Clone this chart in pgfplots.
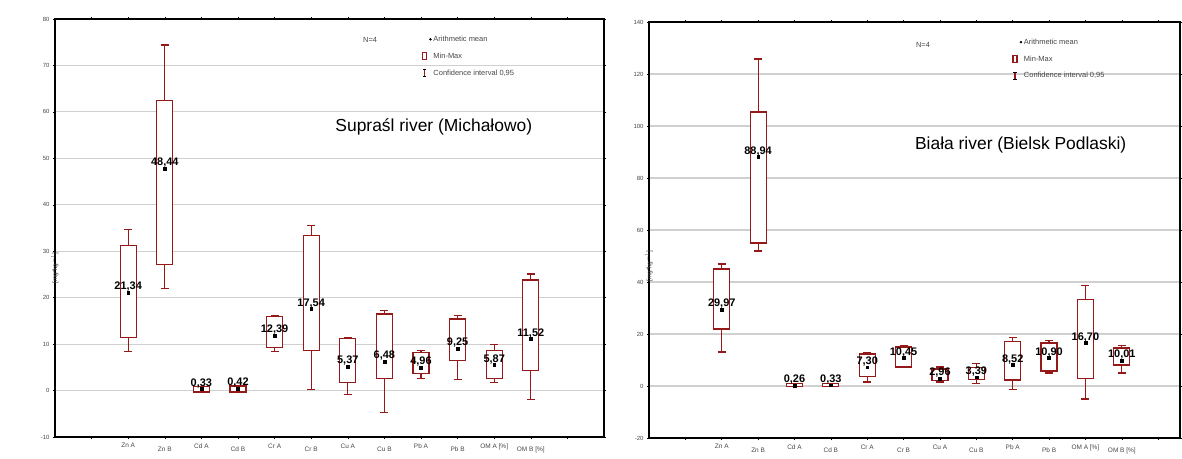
\documentclass[border=0pt]{standalone}
\usepackage{fontspec}
\setmainfont{Liberation Sans}
\usepackage{pgfplots}
\usepgfplotslibrary{statistics}
\pgfplotsset{compat=1.18}
\definecolor{boxred}{RGB}{150,25,25}
\definecolor{gridgray}{RGB}{208,208,208}
\definecolor{legtext}{RGB}{70,70,70}

\pgfplotstableread{
x y lab
2 21.10 21,34
3 47.80 48,44
4 0.33 0,33
5 0.42 0,42
6 11.80 12,39
7 17.54 17,54
8 5.20 5,37
9 6.20 6,48
10 5.00 4,96
11 9.00 9,25
12 5.50 5,87
13 11.10 11,52
}\meanA

\pgfplotstableread{
x y lab
2 29.40 29,97
3 88.10 88,94
4 0.26 0,26
5 0.33 0,33
6 7.20 7,30
7 10.80 10,45
8 2.96 2,96
9 3.39 3,39
10 8.10 8,52
11 10.80 10,90
12 16.50 16,70
13 9.70 10,01
}\meanB

\pgfkeys{/pgfplots/boxplot/myopts/.style={draw direction=y, box extend=0.44, whisker extend=0.22,
  every median/.style={draw=none},
  every box/.style={draw=boxred, fill=white, line width=1.2bp},
  every whisker/.style={draw=boxred, line width=1.2bp}}}

\pgfplotsset{
  panel/.style={
    scale only axis, anchor=south west, xmin=0,
    axis line style={line width=1.4bp},
    xtick={1,...,14},
    xticklabels={{},{Zn A},{\mbox{}\\Zn B},{Cd A},{\mbox{}\\Cd B},{Cr A},{\mbox{}\\Cr B},{Cu A},{\mbox{}\\Cu B},{Pb A},{\mbox{}\\Pb B},{OM A [\%]},{\mbox{}\\OM B [\%]},{}},
    xticklabel style={font=\fontsize{6.5}{8}\selectfont, align=center, yshift=-1bp, text=legtext},
    yticklabel style={font=\fontsize{6}{7}\selectfont, text=legtext},
    /pgf/number format/assume math mode=true,
    ymajorgrids, grid style={gridgray, line width=1.1bp},
    tick align=outside, tick pos=both, major tick length=2bp,
    tick style={black, line width=0.5bp},
    every axis y label/.style={at={(rel axis cs:0,0.5)}, rotate=90, anchor=center, font=\fontsize{6.5}{7}\selectfont, text=legtext},
    legend style={anchor=north west, draw=none, fill=none, font=\fontsize{7.5}{8}\selectfont, text=legtext, row sep=6bp, inner sep=0pt, legend cell align=left},
  },
  bx/.style={boxred, line width=1.2bp, solid},
  meanstyle/.style={only marks, mark=square*, mark size=1.4bp, black,
    nodes near coords, point meta=explicit symbolic,
    nodes near coords style={font=\bfseries\fontsize{11}{11}\selectfont, anchor=south, yshift=0.5bp, inner sep=0.5bp}},
}

\begin{document}
\begin{tikzpicture}
\path[use as bounding box] (0,0) rectangle (1182bp,459bp);

\begin{axis}[panel, at={(55bp,22bp)}, width=549bp, height=418bp,
  xmax=15, ymin=-10, ymax=80, ytick={-10,0,...,80},
  ylabel={[mg*kg$^{-1}$]},
  every axis y label/.append style={xshift=-40bp},
  legend style={at={(rel axis cs:0.668,0.965)}}]
\addlegendimage{only marks, mark=*, mark size=1bp, black}
\addlegendentry{Arithmetic mean}
\addlegendimage{legend image code/.code={\draw[boxred, line width=1.1bp] (0.5bp,-3bp) rectangle (4.5bp,3.5bp);}}
\addlegendentry{Min-Max}
\addlegendimage{legend image code/.code={\draw[boxred, line width=1.2bp] (2.5bp,-3.5bp) -- (2.5bp,3.5bp); \draw[black, line width=0.9bp] (0.8bp,3.5bp) -- (4.2bp,3.5bp) (0.8bp,-3.5bp) -- (4.2bp,-3.5bp);}}
\addlegendentry{Confidence interval 0,95}

\addplot[bx, forget plot, boxplot prepared={myopts, draw position=2, lower whisker=8.4, lower quartile=11.4, median=21.3, upper quartile=31.2, upper whisker=34.6}] coordinates {};
\addplot[bx, forget plot, boxplot prepared={myopts, draw position=3, lower whisker=21.9, lower quartile=27.1, median=48, upper quartile=62.4, upper whisker=74.4}] coordinates {};
\addplot[bx, forget plot, boxplot prepared={myopts, draw position=4, lower whisker=-0.3, lower quartile=-0.3, median=0.33, upper quartile=0.9, upper whisker=0.9}] coordinates {};
\addplot[bx, forget plot, boxplot prepared={myopts, draw position=5, lower whisker=-0.3, lower quartile=-0.3, median=0.42, upper quartile=1.0, upper whisker=1.0}] coordinates {};
\addplot[bx, forget plot, boxplot prepared={myopts, draw position=6, lower whisker=8.4, lower quartile=9.3, median=12, upper quartile=15.9, upper whisker=16.2}] coordinates {};
\addplot[bx, forget plot, boxplot prepared={myopts, draw position=7, lower whisker=0.2, lower quartile=8.6, median=17.5, upper quartile=33.3, upper whisker=35.5}] coordinates {};
\addplot[bx, forget plot, boxplot prepared={myopts, draw position=8, lower whisker=-0.9, lower quartile=1.8, median=5.3, upper quartile=11.2, upper whisker=11.5}] coordinates {};
\addplot[bx, forget plot, boxplot prepared={myopts, draw position=9, lower whisker=-4.8, lower quartile=2.6, median=6.4, upper quartile=16.5, upper whisker=17.2}] coordinates {};
\addplot[bx, forget plot, boxplot prepared={myopts, draw position=10, lower whisker=2.6, lower quartile=3.7, median=5, upper quartile=8.2, upper whisker=8.6}] coordinates {};
\addplot[bx, forget plot, boxplot prepared={myopts, draw position=11, lower whisker=2.4, lower quartile=6.5, median=9.2, upper quartile=15.4, upper whisker=16.1}] coordinates {};
\addplot[bx, forget plot, boxplot prepared={myopts, draw position=12, lower whisker=1.8, lower quartile=2.6, median=5.8, upper quartile=8.6, upper whisker=10.0}] coordinates {};
\addplot[bx, forget plot, boxplot prepared={myopts, draw position=13, lower whisker=-1.9, lower quartile=4.4, median=11.5, upper quartile=23.8, upper whisker=25.1}] coordinates {};
\addplot[meanstyle, forget plot] table[x=x, y=y, meta=lab] {\meanA};

\node[font=\fontsize{7.5}{8}\selectfont, text=legtext] at (rel axis cs:0.574,0.95) {N=4};
\node[font=\fontsize{17.5}{20}\selectfont] at (rel axis cs:0.69,0.742) {Supraśl river (Michałowo)};
\end{axis}

\begin{axis}[panel, at={(649bp,21bp)}, width=531bp, height=416bp,
  xmax=14.6, ymin=-20, ymax=140, ytick={-20,0,...,140},
  ylabel={[mg*kg$^{-1}$]},
  every axis y label/.append style={xshift=-36bp},
  legend style={at={(rel axis cs:0.684,0.965)}}]
\addlegendimage{only marks, mark=*, mark size=1bp, black}
\addlegendentry{Arithmetic mean}
\addlegendimage{legend image code/.code={\draw[boxred, line width=1.1bp] (0.5bp,-3bp) rectangle (4.5bp,3.5bp);}}
\addlegendentry{Min-Max}
\addlegendimage{legend image code/.code={\draw[boxred, line width=1.2bp] (2.5bp,-3.5bp) -- (2.5bp,3.5bp); \draw[black, line width=0.9bp] (0.8bp,3.5bp) -- (4.2bp,3.5bp) (0.8bp,-3.5bp) -- (4.2bp,-3.5bp);}}
\addlegendentry{Confidence interval 0,95}

\addplot[bx, forget plot, boxplot prepared={myopts, draw position=2, lower whisker=13.1, lower quartile=21.9, median=29.5, upper quartile=45, upper whisker=46.9}] coordinates {};
\addplot[bx, forget plot, boxplot prepared={myopts, draw position=3, lower whisker=51.9, lower quartile=55, median=88, upper quartile=105.4, upper whisker=125.8}] coordinates {};
\addplot[bx, forget plot, boxplot prepared={myopts, draw position=4, lower whisker=-0.3, lower quartile=-0.3, median=0.26, upper quartile=1.0, upper whisker=1.0}] coordinates {};
\addplot[bx, forget plot, boxplot prepared={myopts, draw position=5, lower whisker=-0.3, lower quartile=-0.3, median=0.33, upper quartile=1.1, upper whisker=1.1}] coordinates {};
\addplot[bx, forget plot, boxplot prepared={myopts, draw position=6, lower whisker=1.5, lower quartile=3.5, median=7.2, upper quartile=12.3, upper whisker=13}] coordinates {};
\addplot[bx, forget plot, boxplot prepared={myopts, draw position=7, lower whisker=7, lower quartile=7.3, median=10.8, upper quartile=15, upper whisker=15.5}] coordinates {};
\addplot[bx, forget plot, boxplot prepared={myopts, draw position=8, lower whisker=1.5, lower quartile=2.0, median=3, upper quartile=6.5, upper whisker=7.3}] coordinates {};
\addplot[bx, forget plot, boxplot prepared={myopts, draw position=9, lower whisker=1.0, lower quartile=2.5, median=3.4, upper quartile=7.0, upper whisker=8.5}] coordinates {};
\addplot[bx, forget plot, boxplot prepared={myopts, draw position=10, lower whisker=-1.5, lower quartile=2.3, median=8.1, upper quartile=17, upper whisker=18.5}] coordinates {};
\addplot[bx, forget plot, boxplot prepared={myopts, draw position=11, lower whisker=5, lower quartile=5.8, median=10.8, upper quartile=16.5, upper whisker=17.5}] coordinates {};
\addplot[bx, forget plot, boxplot prepared={myopts, draw position=12, lower whisker=-5, lower quartile=3, median=16.5, upper quartile=33.4, upper whisker=38.8}] coordinates {};
\addplot[bx, forget plot, boxplot prepared={myopts, draw position=13, lower whisker=5, lower quartile=8.1, median=9.7, upper quartile=14.6, upper whisker=15.5}] coordinates {};
\addplot[meanstyle, forget plot] table[x=x, y=y, meta=lab] {\meanB};

\node[font=\fontsize{7.5}{8}\selectfont, text=legtext] at (rel axis cs:0.516,0.945) {N=4};
\node[font=\fontsize{17.5}{20}\selectfont] at (rel axis cs:0.70,0.704) {Biała river (Bielsk Podlaski)};
\end{axis}
\end{tikzpicture}
\end{document}
